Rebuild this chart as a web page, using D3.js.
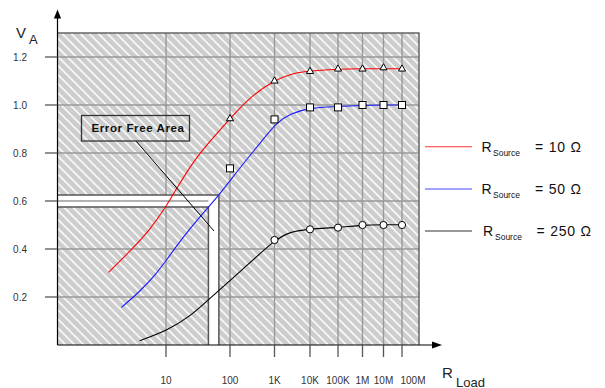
<!DOCTYPE html>
<html>
<head>
<meta charset="utf-8">
<script src="https://cdn.jsdelivr.net/npm/d3@7"></script>
<style>
  body { margin: 0; background: #fff; }
  svg { display: block; font-family: "Liberation Sans", Arial, sans-serif; }
</style>
</head>
<body>
<svg id="chart" width="605" height="388"></svg>
<script>
// ---- data ----
const xTicks = [10, 100, 1e3, 1e4, 1e5, 1e6, 1e7, 1e8];
const xTickLabels = ["10", "100", "1K", "10K", "100K", "1M", "10M", "100M"];
const yTicks = [0.2, 0.4, 0.6, 0.8, 1.0, 1.2];
const yTickLabels = ["0.2", "0.4", "0.6", "0.8", "1.0", "1.2"];

// measured points (R load, V)
const markerR = [100, 1e3, 1e4, 1e5, 1e6, 1e7, 1e8];
const red10Marks = [0.943, 1.10, 1.14, 1.15, 1.15, 1.155, 1.15];
const blue50Marks = [0.736, 0.94, 0.99, 0.99, 1.0, 1.0, 1.0];
const blackMarkR = [1e3, 1e4, 1e5, 1e6, 1e7, 1e8];
const black250Marks = [0.4375, 0.482, 0.489, 0.50, 0.50, 0.50];

// fitted curves
const redCurveR = [2.3, 4.3, 6.6, 10, 14.7, 23.7, 34, 100, 285, 1000, 3270, 1e4, 1e5, 1e6, 1e7, 1e8];
const redCurveV = [0.303, 0.403, 0.479, 0.576, 0.653, 0.742, 0.802, 0.943, 1.035, 1.103, 1.133, 1.142, 1.15, 1.151, 1.151, 1.151];
const blueCurveR = [3.2, 5.1, 7.9, 10.3, 18.7, 34, 70, 169, 481, 1150, 2690, 1e4, 1e5, 1e6, 1e7, 1e8];
const blueCurveV = [0.157, 0.222, 0.299, 0.356, 0.451, 0.535, 0.629, 0.74, 0.842, 0.928, 0.9625, 0.99, 0.993, 0.999, 1.0, 1.0];
const blackCurveR = [5.1, 10.3, 23.7, 48.7, 169, 1000, 2690, 1e4, 1e5, 1e6, 1e7, 1e8];
const blackCurveV = [0.018, 0.06, 0.118, 0.195, 0.305, 0.4375, 0.472, 0.484, 0.489, 0.5, 0.501, 0.501];

const legendNames = ["10", "50", "250"];
const seriesColors = ["#ff0000", "#1a1aff", "#000000"];

// error free area corners (R, V)
const errorOuter = [67, 0.625];
const errorInner = [46, 0.575];

// ---- scales ----
// the R axis is a squeezed log axis: each decade gets narrower
const decadeLin = d3.scaleLinear()
    .domain(d3.range(9))
    .range([76, 166, 230, 274.5, 310, 338, 362.5, 383.5, 402]);
const x = r => decadeLin(Math.log10(r));
const y = d3.scaleLinear().domain([0, 1.3]).range([345, 33]);

const left = 57.5, right = 419;
const svg = d3.select('#chart');

// hatch pattern
const defs = svg.append('defs');
const pat = defs.append('pattern')
    .attr('id', 'hatch')
    .attr('patternUnits', 'userSpaceOnUse')
    .attr('width', 6.4).attr('height', 10)
    .attr('patternTransform', 'rotate(-45)');
pat.append('rect').attr('width', 6.4).attr('height', 10).attr('fill', '#cdcdcd');
pat.append('line').attr('x1', 1).attr('x2', 1).attr('y1', 0).attr('y2', 10)
    .attr('stroke', '#fff').attr('stroke-width', 1.5);

svg.append('rect')
    .attr('x', left).attr('y', y(1.3))
    .attr('width', right - left).attr('height', y(0) - y(1.3))
    .attr('fill', 'url(#hatch)');

// grid
const grid = svg.append('g').attr('stroke', '#999').attr('stroke-width', 1.4);
grid.selectAll('line.h').data(yTicks).join('line').attr('class', 'h')
    .attr('x1', left).attr('x2', right)
    .attr('y1', d => y(d)).attr('y2', d => y(d));
grid.selectAll('line.v').data(xTicks).join('line').attr('class', 'v')
    .attr('x1', d => x(d)).attr('x2', d => x(d))
    .attr('y1', y(1.3)).attr('y2', y(0));

// error free L band (white)
svg.append('rect')
    .attr('x', x(errorInner[0])).attr('y', y(errorInner[1]))
    .attr('width', x(errorOuter[0]) - x(errorInner[0]))
    .attr('height', y(0) - y(errorInner[1]))
    .attr('fill', '#fff');
svg.append('rect')
    .attr('x', left).attr('y', y(errorOuter[1]))
    .attr('width', x(errorOuter[0]) - left)
    .attr('height', y(errorInner[1]) - y(errorOuter[1]))
    .attr('fill', '#fff');
svg.append('g').attr('stroke', '#999').attr('stroke-width', 1.4)
    .selectAll('line').data(yTicks.filter(v => v > errorInner[1] && v < errorOuter[1])).join('line')
    .attr('x1', left).attr('x2', x(errorInner[0]))
    .attr('y1', d => y(d)).attr('y2', d => y(d));

const bandLine = d3.line();
svg.append('path')
    .attr('d', bandLine([[left, y(errorOuter[1])], [x(errorOuter[0]), y(errorOuter[1])], [x(errorOuter[0]), y(0)]]))
    .attr('fill', 'none').attr('stroke', '#555').attr('stroke-width', 1.5);
svg.append('path')
    .attr('d', bandLine([[left, y(errorInner[1])], [x(errorInner[0]), y(errorInner[1])], [x(errorInner[0]), y(0)]]))
    .attr('fill', 'none').attr('stroke', '#555').attr('stroke-width', 1.5);

// frame top/right
svg.append('path')
    .attr('d', bandLine([[left, y(1.3)], [right, y(1.3)], [right, y(0)]]))
    .attr('fill', 'none').attr('stroke', '#666').attr('stroke-width', 1.5);

// curves
const line = d3.line().x(d => x(d[0])).y(d => y(d[1])).curve(d3.curveBasis);
const curves = [
    d3.zip(redCurveR, redCurveV),
    d3.zip(blueCurveR, blueCurveV),
    d3.zip(blackCurveR, blackCurveV)
];
svg.append('g').selectAll('path').data(curves).join('path')
    .attr('d', line)
    .attr('fill', 'none')
    .attr('stroke', (d, i) => seriesColors[i])
    .attr('stroke-width', 1.1);

// error free label
svg.append('line')
    .attr('x1', 136).attr('y1', 141).attr('x2', 214).attr('y2', 231)
    .attr('stroke', '#000').attr('stroke-width', 1);
svg.append('rect')
    .attr('x', 81.5).attr('y', 115.5).attr('width', 108).attr('height', 25.5)
    .attr('fill', 'none').attr('stroke', '#333').attr('stroke-width', 1.3);
svg.append('text')
    .attr('x', 138).attr('y', 132)
    .attr('text-anchor', 'middle')
    .attr('font-size', 11.5).attr('font-weight', 'bold')
    .attr('letter-spacing', 0.6)
    .attr('fill', '#111')
    .text('Error Free Area');

// markers
const mk = svg.append('g').attr('fill', '#fff').attr('stroke', '#000').attr('stroke-width', 1);
mk.selectAll('path.tri').data(d3.zip(markerR, red10Marks)).join('path').attr('class', 'tri')
    .attr('d', d3.symbol(d3.symbolTriangle, 22))
    .attr('transform', d => `translate(${x(d[0])},${y(d[1])})`);
mk.selectAll('rect.sq').data(d3.zip(markerR, blue50Marks)).join('rect').attr('class', 'sq')
    .attr('x', d => x(d[0]) - 3.5).attr('y', d => y(d[1]) - 3.5)
    .attr('width', 7).attr('height', 7);
mk.selectAll('circle').data(d3.zip(blackMarkR, black250Marks)).join('circle')
    .attr('cx', d => x(d[0])).attr('cy', d => y(d[1])).attr('r', 3.6);

// axes
const axis = svg.append('g').attr('stroke', '#000').attr('stroke-width', 1.2);
axis.append('line').attr('x1', left).attr('x2', left).attr('y1', y(0)).attr('y2', 16);
axis.append('line').attr('x1', left).attr('x2', 434).attr('y1', y(0)).attr('y2', y(0));
svg.append('path').attr('d', `M${left},9.5L${left - 3.6},18.5L${left + 3.6},18.5Z`).attr('fill', '#000');
svg.append('path').attr('d', `M442,${y(0)}L432,${y(0) - 3.6}L432,${y(0) + 3.6}Z`).attr('fill', '#000');

// ticks
const tk = svg.append('g').attr('stroke', '#555').attr('stroke-width', 1.3);
tk.selectAll('line.yt').data(yTicks).join('line').attr('class', 'yt')
    .attr('x1', 45).attr('x2', left).attr('y1', d => y(d)).attr('y2', d => y(d));
tk.selectAll('line.xt').data(xTicks).join('line').attr('class', 'xt')
    .attr('x1', d => x(d)).attr('x2', d => x(d)).attr('y1', y(0)).attr('y2', y(0) + 12);

svg.append('g').attr('font-size', 10).attr('fill', '#333').attr('text-anchor', 'end')
    .selectAll('text').data(yTicks).join('text')
    .attr('x', 27).attr('y', d => y(d) + 3.5)
    .text((d, i) => yTickLabels[i]);
svg.append('g').attr('font-size', 10).attr('fill', '#333').attr('text-anchor', 'middle')
    .selectAll('text').data(xTicks).join('text')
    .attr('x', (d, i) => x(d) + (i === xTicks.length - 1 ? 11 : 0)).attr('y', 384)
    .text((d, i) => xTickLabels[i]);

// axis titles
const vt = svg.append('text').attr('x', 16).attr('y', 38).attr('font-size', 15).attr('fill', '#222');
vt.append('tspan').text('V');
vt.append('tspan').attr('x', 29).attr('y', 43.5).attr('font-size', 13).text('A');
const rt = svg.append('text').attr('x', 442).attr('y', 378).attr('font-size', 15).attr('fill', '#222');
rt.append('tspan').text('R');
rt.append('tspan').attr('x', 456).attr('y', 386.5).attr('font-size', 13).text('Load');

// legend
const lg = svg.append('g').selectAll('g').data(legendNames).join('g')
    .attr('transform', (d, i) => `translate(0,${[146.7, 189, 231][i]})`);
lg.append('line').attr('x1', 425).attr('x2', 472)
    .attr('stroke', (d, i) => seriesColors[i]).attr('stroke-width', 1.1).attr('opacity', 0.8);
const lt = lg.append('text').attr('fill', '#111').attr('font-size', 14);
lt.append('tspan').attr('x', (d, i) => i === 2 ? 483 : 481.5).attr('y', 5).text('R');
lt.append('tspan').attr('x', (d, i) => i === 2 ? 495 : 493).attr('y', 9).attr('font-size', 8.5).text('Source');
lt.append('tspan').attr('x', (d, i) => i === 2 ? 536.5 : 535).attr('y', 5)
    .attr('letter-spacing', 0.8).text(d => `= ${d} Ω`);
</script>
</body>
</html>
